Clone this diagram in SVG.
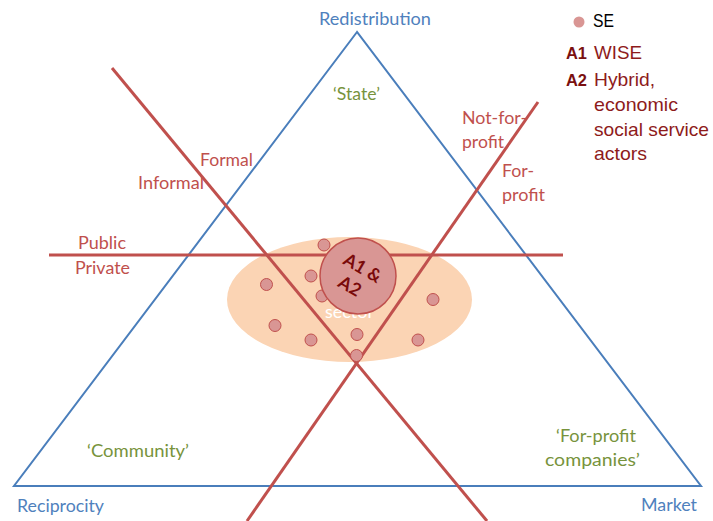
<svg xmlns="http://www.w3.org/2000/svg" width="713" height="521" viewBox="0 0 713 521">
<defs>
<style>
.lbl{font-family:Lato,"Open Sans","Liberation Sans",sans-serif;font-size:17px}
.blue{fill:#4f81bd}
.green{fill:#77933c}
.red{fill:#c0504d}
.rl{stroke:#c0504d;stroke-width:3;fill:none}
.dot{fill:#d99694;stroke:#c0504d;stroke-width:1}
.leg{font-family:"Liberation Sans",Arial,sans-serif;font-size:19px;fill:#8e1b1b}
.legb{font-family:"Liberation Sans",Arial,sans-serif;font-size:17px;font-weight:bold;fill:#7a1010}
</style>
</defs>
<rect width="713" height="521" fill="#ffffff"/>
<g id="triangle">
<polygon points="357,32 14,486 701,486" fill="none" stroke="#4a7ebb" stroke-width="2"/>
</g>
<g id="sector-ellipse">
<ellipse cx="349.5" cy="299.5" rx="122.5" ry="62.5" fill="#fbd4b4"/>
<text class="lbl" x="325" y="318" fill="#ffffff" textLength="49" lengthAdjust="spacingAndGlyphs">sector</text>
</g>
<g id="connectors">
<line class="rl" x1="112" y1="68" x2="487" y2="521"/>
<line class="rl" x1="538" y1="102" x2="247" y2="521"/>
<line class="rl" x1="49" y1="255" x2="563" y2="255"/>
</g>
<g id="se-dots">
<circle class="dot" cx="324" cy="245" r="6"/>
<circle class="dot" cx="311" cy="276" r="6"/>
<circle class="dot" cx="266.5" cy="284.5" r="6"/>
<circle class="dot" cx="322" cy="296" r="6"/>
<circle class="dot" cx="433" cy="299.5" r="6"/>
<circle class="dot" cx="275" cy="325.5" r="6"/>
<circle class="dot" cx="311" cy="340" r="6"/>
<circle class="dot" cx="357" cy="334.5" r="6"/>
<circle class="dot" cx="418" cy="340" r="6"/>
<circle class="dot" cx="356.5" cy="355.5" r="6"/>
</g>
<g id="a1a2">
<circle cx="358" cy="276" r="38" fill="#d99694" stroke="#c0504d" stroke-width="1.5"/>
<g transform="translate(358,276) rotate(30)" font-family="Lato,'Open Sans','Liberation Sans',sans-serif" font-size="18" font-weight="bold" fill="#7a0a0a" text-anchor="middle">
<text x="0" y="-3">A1 &amp;</text>
<text x="-2" y="19">A2</text>
</g>
</g>
<g id="labels">
<text class="lbl blue" x="319" y="25" textLength="112" lengthAdjust="spacingAndGlyphs">Redistribution</text>
<text class="lbl green" x="333" y="100" textLength="47" lengthAdjust="spacingAndGlyphs">‘State’</text>
<text class="lbl red" x="200" y="166" textLength="53" lengthAdjust="spacingAndGlyphs">Formal</text>
<text class="lbl red" x="138" y="189" textLength="66" lengthAdjust="spacingAndGlyphs">Informal</text>
<text class="lbl red" x="78" y="249" textLength="48" lengthAdjust="spacingAndGlyphs">Public</text>
<text class="lbl red" x="75" y="274" textLength="55" lengthAdjust="spacingAndGlyphs">Private</text>
<text class="lbl red" x="462" y="124" textLength="65" lengthAdjust="spacingAndGlyphs">Not-for-</text>
<text class="lbl red" x="462" y="148" textLength="42" lengthAdjust="spacingAndGlyphs">profit</text>
<text class="lbl red" x="502" y="177" textLength="32" lengthAdjust="spacingAndGlyphs">For-</text>
<text class="lbl red" x="502" y="201" textLength="43" lengthAdjust="spacingAndGlyphs">profit</text>
<text class="lbl green" x="87" y="457" textLength="102" lengthAdjust="spacingAndGlyphs">‘Community’</text>
<text class="lbl green" x="556" y="442" textLength="80" lengthAdjust="spacingAndGlyphs">‘For-profit</text>
<text class="lbl green" x="545" y="466" textLength="95" lengthAdjust="spacingAndGlyphs">companies’</text>
<text class="lbl blue" x="17" y="512" textLength="87" lengthAdjust="spacingAndGlyphs">Reciprocity</text>
<text class="lbl blue" x="641" y="511" textLength="56" lengthAdjust="spacingAndGlyphs">Market</text>
</g>
<g id="legend">
<circle cx="579" cy="22" r="5.5" fill="#d99694"/>
<text x="593" y="27" font-family="'Liberation Sans',Arial,sans-serif" font-size="18" fill="#000000" textLength="21" lengthAdjust="spacingAndGlyphs">SE</text>
<text class="legb" x="566" y="59" textLength="21" lengthAdjust="spacingAndGlyphs">A1</text>
<text class="leg" x="594" y="59" textLength="48" lengthAdjust="spacingAndGlyphs">WISE</text>
<text class="legb" x="566" y="86" textLength="21" lengthAdjust="spacingAndGlyphs">A2</text>
<text class="leg" x="594" y="86" textLength="61" lengthAdjust="spacingAndGlyphs">Hybrid,</text>
<text class="leg" x="594" y="111" textLength="84" lengthAdjust="spacingAndGlyphs">economic</text>
<text class="leg" x="594" y="136" textLength="115" lengthAdjust="spacingAndGlyphs">social service</text>
<text class="leg" x="594" y="160" textLength="53" lengthAdjust="spacingAndGlyphs">actors</text>
</g>
</svg>
